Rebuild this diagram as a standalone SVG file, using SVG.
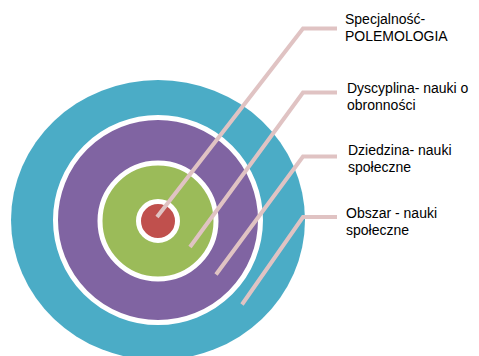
<svg xmlns="http://www.w3.org/2000/svg" width="479" height="356" viewBox="0 0 479 356">
  <style>
    .lbl { font-family: "Liberation Sans", Arial, sans-serif; font-size: 14px; fill: #000000; }
    .ring { stroke: #ffffff; stroke-width: 5; }
    .conn { fill: none; stroke: #e0c3c3; stroke-width: 4; stroke-linejoin: miter; }
  </style>
  <rect x="0" y="0" width="479" height="356" fill="#ffffff"/>
  <g id="obszar">
    <ellipse cx="158" cy="220" rx="147" ry="140" fill="#4bacc6"/>
  </g>
  <g id="dyscyplina">
    <circle cx="158" cy="220" r="102.5" fill="#8064a2" class="ring"/>
  </g>
  <g id="dziedzina">
    <circle cx="158" cy="221" r="58" fill="#9bbb59" class="ring"/>
  </g>
  <g id="specjalnosc">
    <circle cx="158" cy="221" r="19.5" fill="#c0504d" class="ring"/>
  </g>
  <g id="connectors">
    <polyline class="conn" points="157,217 303,28.5 337,28.5"/>
    <polyline class="conn" points="190,247 303,92.5 337,92.5"/>
    <polyline class="conn" points="216,274.5 303,156.5 337,156.5"/>
    <polyline class="conn" points="242,304.5 303,217 337,217"/>
  </g>
  <g id="label-specjalnosc">
    <text class="lbl" x="345" y="24">Specjalność-</text>
    <text class="lbl" x="345" y="41">POLEMOLOGIA</text>
  </g>
  <g id="label-dyscyplina">
    <text class="lbl" x="347" y="93">Dyscyplina- nauki o</text>
    <text class="lbl" x="347" y="110">obronności</text>
  </g>
  <g id="label-dziedzina">
    <text class="lbl" x="348" y="155">Dziedzina- nauki</text>
    <text class="lbl" x="348" y="172">społeczne</text>
  </g>
  <g id="label-obszar">
    <text class="lbl" x="346" y="218">Obszar - nauki</text>
    <text class="lbl" x="346" y="235">społeczne</text>
  </g>
</svg>
